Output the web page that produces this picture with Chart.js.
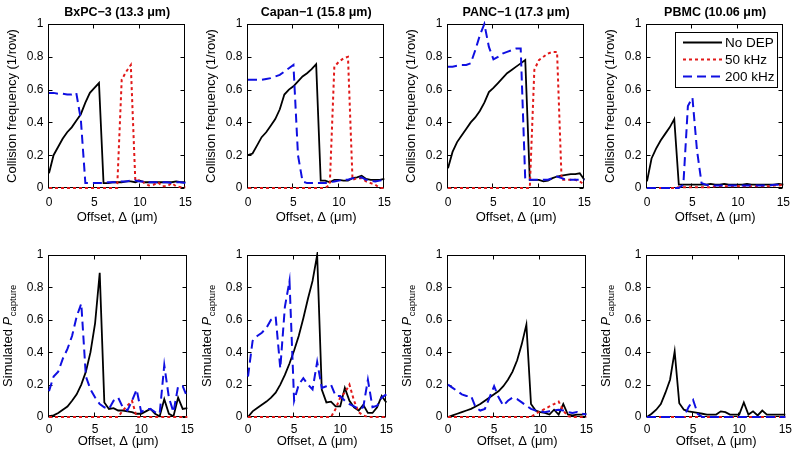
<!DOCTYPE html>
<html><head><meta charset="utf-8">
<script src="https://cdn.jsdelivr.net/npm/chart.js@4.4.1/dist/chart.umd.min.js"></script>
<style>
html,body{margin:0;padding:0;background:#fff;width:796px;height:454px;overflow:hidden;position:relative;}
canvas{position:absolute;}
</style></head><body>
<script>
// ---------- shared axes ----------
const offsets = [0,0.5,1,1.5,2,2.5,3,3.5,4,4.5, 5,5.5,6,6.5,7,7.5,8,8.5,9,9.5, 10,10.5,11,11.5,12,12.5,13,13.5,14,14.5, 15];
const xTicks = [0,5,10,15];
const yTicks = [0,0.2,0.4,0.6,0.8,1];
const panelTitles = ["BxPC\u22123 (13.3 \u03bcm)", "Capan\u22121 (15.8 \u03bcm)", "PANC\u22121 (17.3 \u03bcm)", "PBMC (10.06 \u03bcm)"];
const seriesNames = ["No DEP", "50 kHz", "200 kHz"];
const xLabel = "Offset, \u0394 (\u03bcm)";
const yLabelTop = "Collision frequency (1/row)";
const yLabelBottom = ["Simulated ", "P", "capture"];

// ---------- collision frequency (top row) ----------
const bxCollNoDep = [0.09,0.20,0.25,0.30,0.34,0.37,0.41,0.45,0.52,0.58, 0.61,0.64,0.03,0.03,0.035,0.035,0.035,0.04,0.04,0.035, 0.045,0.035,0.035,0.035,0.035,0.035,0.035,0.035,0.04,0.035, 0.035];
const bxColl50k   = [0,0,0,0,0,0,0,0,0,0, 0,0,0,0,0,0,0.66,0.71,0.75,0.04, 0.05,0.03,0.015,0.02,0.035,0.01,0.01,0.03,0.01,0.005, 0.005];
const bxColl200k  = [0.58,0.58,0.575,0.575,0.57,0.57,0.58,0.42,0.03,0.03, 0.03,0.03,0.03,0.035,0.035,0.035,0.04,0.04,0.045,0.045, 0.04,0.04,0.035,0.035,0.035,0.035,0.035,0.03,0.035,0.035, 0.03];

const caCollNoDep = [0.2,0.21,0.26,0.31,0.34,0.38,0.42,0.48,0.57,0.6, 0.62,0.65,0.68,0.70,0.725,0.755,0.045,0.045,0.035,0.05, 0.05,0.045,0.045,0.06,0.065,0.075,0.055,0.05,0.05,0.05, 0.055];
const caColl50k   = [0,0,0,0,0,0,0,0,0,0, 0,0,0,0,0,0,0,0,0.02,0.74, 0.77,0.79,0.80,0.05,0.06,0.06,0.04,0.03,0.02,0, 0];
const caColl200k  = [0.66,0.66,0.66,0.66,0.665,0.67,0.68,0.69,0.71,0.73, 0.75,0.2,0.04,0.03,0.03,0.03,0.03,0.03,0.035,0.04, 0.045,0.05,0.05,0.06,0.06,0.065,0.05,0.045,0.04,0.045, 0.05];

const paCollNoDep = [0.12,0.22,0.28,0.32,0.36,0.40,0.43,0.47,0.52,0.585, 0.61,0.64,0.67,0.70,0.72,0.74,0.76,0.78,0.05,0.05, 0.05,0.04,0.045,0.06,0.07,0.075,0.08,0.085,0.085,0.09, 0.05];
const paColl50k   = [0,0,0,0,0,0,0,0,0,0, 0,0,0,0,0,0,0,0,0,0.72, 0.78,0.80,0.82,0.83,0.83,0.05,0.05,0.05,0.05,0.04, 0.02];
const paColl200k  = [0.74,0.74,0.745,0.75,0.75,0.76,0.84,0.93,1.0,0.86, 0.785,0.80,0.82,0.83,0.84,0.85,0.85,0.05,0.05,0.05, 0.05,0.05,0.05,0.06,0.07,0.06,0.05,0.05,0.05,0.05, 0.05];

const pbCollNoDep = [0.04,0.18,0.24,0.29,0.33,0.37,0.42,0.02,0.02,0.02, 0.02,0.02,0.02,0.02,0.025,0.02,0.02,0.025,0.02,0.02, 0.02,0.02,0.025,0.02,0.02,0.02,0.02,0.02,0.02,0.025, 0.02];
const pbColl50k   = [0,0,0,0,0,0,0,0.005,0.005,0.005, 0.005,0.005,0.005,0.005,0.005,0.01,0.01,0.01,0.01,0.01, 0.01,0.01,0.01,0.01,0.01,0.01,0.01,0.01,0.015,0.015, 0.02];
const pbColl200k  = [0,0,0,0,0,0,0,0,0.02,0.5, 0.55,0.23,0.03,0.02,0.015,0.015,0.015,0.015,0.015,0.015, 0.015,0.015,0.015,0.015,0.015,0.015,0.015,0.015,0.02,0.02, 0.01];

// ---------- simulated P_capture (bottom row) ----------
const bxSimNoDep = [0.005,0.01,0.025,0.045,0.065,0.1,0.14,0.2,0.28,0.4, 0.58,0.89,0.09,0.05,0.055,0.04,0.04,0.035,0.03,0.02, 0.02,0.035,0.05,0.02,0.005,0.11,0.02,0.005,0.12,0.05, 0.055];
const bxSim50k   = [0,0,0,0,0,0,0,0,0,0, 0,0,0,0,0,0,0.04,0.07,0.1,0, 0,0,0,0,0,0,0,0,0,0, 0];
const bxSim200k  = [0.16,0.25,0.28,0.36,0.42,0.5,0.62,0.70,0.25,0.17, 0.12,0.08,0.06,0.05,0.1,0.12,0.06,0.04,0.1,0.17, 0.03,0.05,0.05,0.03,0.02,0.32,0.12,0.03,0.19,0.19, 0.12];

const caSimNoDep = [0,0.035,0.055,0.075,0.095,0.12,0.15,0.2,0.26,0.33, 0.41,0.5,0.61,0.73,0.84,1.0,0.17,0.09,0.095,0.065, 0.065,0.18,0.1,0.06,0.04,0.075,0.025,0.025,0.06,0.13, 0.09];
const caSim50k   = [0,0,0,0,0,0,0,0,0,0, 0,0,0,0,0,0,0,0,0,0.05, 0.12,0.15,0.2,0.1,0.03,0.01,0,0,0,0, 0];
const caSim200k  = [0.25,0.47,0.5,0.52,0.55,0.6,0.62,0.3,0.68,0.84, 0.1,0.2,0.24,0.2,0.17,0.34,0.18,0.19,0.2,0.13, 0.13,0.1,0.08,0.065,0.05,0.06,0.23,0.06,0.07,0.12, 0.14];

const paSimNoDep = [0,0.01,0.02,0.03,0.04,0.05,0.065,0.08,0.1,0.12, 0.14,0.16,0.19,0.23,0.28,0.35,0.45,0.57,0.08,0.04, 0.03,0.025,0.015,0.045,0.015,0.08,0.015,0.01,0.015,0.015, 0.02];
const paSim50k   = [0,0,0,0,0,0,0,0,0,0, 0,0,0,0,0,0,0,0,0,0.02, 0.035,0.05,0.065,0.08,0.095,0.04,0.005,0,0,0, 0];
const paSim200k  = [0.2,0.18,0.16,0.14,0.13,0.13,0.06,0.04,0.05,0.12, 0.19,0.12,0.07,0.1,0.12,0.11,0.09,0.07,0.05,0.04, 0.035,0.03,0.035,0.04,0.045,0.04,0.03,0.025,0.03,0.02, 0.015];

const pbSimNoDep = [0,0.02,0.045,0.08,0.15,0.23,0.405,0.085,0.045,0.035, 0.03,0.025,0.02,0.015,0.015,0.015,0.035,0.03,0.015,0.015, 0.015,0.09,0.015,0.035,0.01,0.04,0.015,0.015,0.015,0.015, 0.015];
const pbSim50k   = [0,0,0,0,0,0,0,0,0,0, 0,0,0,0,0,0,0,0,0,0, 0,0,0,0,0,0,0,0,0,0, 0];
const pbSim200k  = [0,0,0,0,0,0,0,0,0,0.06, 0.105,0.02,0,0,0,0,0,0,0,0, 0,0,0,0,0,0,0,0,0,0, 0];

// ---------- styling / layout ----------
const FONT = '"Liberation Sans", Arial, Helvetica, sans-serif';
const styles = [
  {color:'#000000', width:1.8, dash:[]},
  {color:'rgb(225,25,25)', width:2, dash:[3,3]},
  {color:'rgb(15,15,225)', width:2, dash:[9,5]}
];
const plotLefts = [49, 248, 448, 647];
const PLOT_W = 141, AXIS_W = 49, CANVAS_W = 199;
const rows = [
  {canvasTop:0,   canvasH:228, plotTop:24, plotBottom:188, tickPad:7, titlePad:2.5},
  {canvasTop:228, canvasH:226, plotTop:27, plotBottom:189, tickPad:5, titlePad:4.5}
];
const panelData = [
  [[bxCollNoDep,bxColl50k,bxColl200k],[caCollNoDep,caColl50k,caColl200k],[paCollNoDep,paColl50k,paColl200k],[pbCollNoDep,pbColl50k,pbColl200k]],
  [[bxSimNoDep,bxSim50k,bxSim200k],[caSimNoDep,caSim50k,caSim200k],[paSimNoDep,paSim50k,paSim200k],[pbSimNoDep,pbSim50k,pbSim200k]]
];

const framePlugin = {
  id: 'frame',
  beforeDatasetsDraw(chart) {
    const {ctx, chartArea: a, scales: {x, y}} = chart;
    ctx.save();
    ctx.strokeStyle = '#000'; ctx.lineWidth = 1; ctx.setLineDash([]);
    const L = Math.round(a.left) - 0.5, R = Math.round(a.right) - 0.5;
    const T = Math.round(a.top) + 0.5, B = Math.round(a.bottom) - 0.5;
    const tl = 4;
    ctx.beginPath();
    xTicks.forEach(v => { const p = Math.round(x.getPixelForValue(v)) - 0.5; ctx.moveTo(p, B); ctx.lineTo(p, B - tl); ctx.moveTo(p, T); ctx.lineTo(p, T + tl); });
    yTicks.forEach(v => { const p = Math.round(y.getPixelForValue(v)) + 0.5; ctx.moveTo(L, p); ctx.lineTo(L + tl, p); ctx.moveTo(R, p); ctx.lineTo(R - tl, p); });
    ctx.stroke();
    ctx.strokeRect(L, T, R - L, B - T);
    ctx.restore();
  },
  afterDatasetsDraw(chart, args, o) {
    if (!o.legend) return;
    const {ctx, chartArea: a} = chart;
    ctx.save();
    const bl = a.left + 28, br = a.right - 6, bt = a.top + 8, bb = bt + 55;
    ctx.fillStyle = '#fff'; ctx.fillRect(bl, bt, br - bl, bb - bt);
    ctx.strokeStyle = '#000'; ctx.lineWidth = 1;
    ctx.strokeRect(Math.round(bl) + 0.5, Math.round(bt) + 0.5, Math.round(br - bl), Math.round(bb - bt));
    chart.data.datasets.forEach((ds, k) => {
      const yy = bt + 10.5 + 17 * k;
      ctx.beginPath();
      ctx.strokeStyle = ds.borderColor; ctx.lineWidth = ds.borderWidth; ctx.setLineDash(ds.borderDash || []);
      ctx.moveTo(bl + 8, yy); ctx.lineTo(bl + 47, yy); ctx.stroke();
      ctx.setLineDash([]);
      ctx.fillStyle = '#000'; ctx.font = '13.5px ' + FONT; ctx.textAlign = 'left'; ctx.textBaseline = 'middle';
      ctx.fillText(ds.label, bl + 50, yy + 0.5);
    });
    ctx.restore();
  },
  afterDraw(chart, args, o) {
    const {ctx, chartArea: a} = chart;
    ctx.save();
    ctx.fillStyle = '#000';
    if (o.title) {
      ctx.font = 'bold 12.5px ' + FONT; ctx.textAlign = 'center'; ctx.textBaseline = 'middle';
      ctx.fillText(o.title, (a.left + a.right) / 2, 12.5);
    }
    const cy = (a.top + a.bottom) / 2;
    if (o.row === 0) {
      ctx.translate(a.left - 33.5, cy); ctx.rotate(-Math.PI / 2);
      ctx.font = '13px ' + FONT; ctx.textAlign = 'center'; ctx.textBaseline = 'alphabetic';
      ctx.fillText(yLabelTop, 0, 0);
    } else {
      ctx.translate(a.left - 37, cy); ctx.rotate(-Math.PI / 2);
      ctx.textAlign = 'left'; ctx.textBaseline = 'alphabetic';
      const f1 = '13px ' + FONT, f2 = 'italic 13px ' + FONT, f3 = '9.5px ' + FONT;
      ctx.font = f1; const w1 = ctx.measureText(yLabelBottom[0]).width;
      ctx.font = f2; const w2 = ctx.measureText(yLabelBottom[1]).width;
      ctx.font = f3; const w3 = ctx.measureText(yLabelBottom[2]).width;
      let sx = -(w1 + w2 + w3) / 2;
      ctx.font = f1; ctx.fillText(yLabelBottom[0], sx, 0); sx += w1;
      ctx.font = f2; ctx.fillText(yLabelBottom[1], sx, 0); sx += w2 + 0.5;
      ctx.font = f3; ctx.fillText(yLabelBottom[2], sx, 4);
    }
    ctx.restore();
  }
};

rows.forEach((rw, r) => {
  plotLefts.forEach((pl, c) => {
    const cv = document.createElement('canvas');
    cv.width = CANVAS_W; cv.height = rw.canvasH;
    cv.style.left = (pl - AXIS_W) + 'px'; cv.style.top = rw.canvasTop + 'px';
    cv.style.width = CANVAS_W + 'px'; cv.style.height = rw.canvasH + 'px';
    document.body.appendChild(cv);
    const series = panelData[r][c];
    new Chart(cv, {
      type: 'line',
      data: {
        datasets: seriesNames.map((name, k) => ({
          label: name,
          data: offsets.map((xv, i) => ({x: xv, y: series[k][i]})),
          borderColor: styles[k].color, borderWidth: styles[k].width, borderDash: styles[k].dash,
          pointRadius: 0, fill: false, tension: 0, order: 3 - k, clip: 3
        }))
      },
      options: {
        responsive: false, animation: false, events: [], devicePixelRatio: 1,
        layout: {padding: {top: rw.plotTop, right: CANVAS_W - AXIS_W - PLOT_W, left: 0, bottom: 0}, autoPadding: false},
        plugins: {
          legend: {display: false}, tooltip: {enabled: false},
          frame: {title: r === 0 ? panelTitles[c] : null, row: r, legend: (r === 0 && c === 3)}
        },
        scales: {
          x: {
            type: 'linear', min: 0, max: 15,
            afterFit(s) { s.height = rw.canvasH - rw.plotBottom; },
            afterBuildTicks(s) { s.ticks = xTicks.map(v => ({value: v})); },
            grid: {display: false, drawTicks: false}, border: {display: false},
            ticks: {padding: rw.tickPad, color: '#000', maxRotation: 0, font: {family: FONT, size: 12}, callback: v => String(v)},
            title: {display: true, text: xLabel, color: '#000', font: {family: FONT, size: 13}, padding: {top: 0, bottom: rw.titlePad}}
          },
          y: {
            type: 'linear', min: 0, max: 1,
            afterFit(s) { s.width = AXIS_W; },
            afterBuildTicks(s) { s.ticks = yTicks.map(v => ({value: v})); },
            grid: {display: false, drawTicks: false}, border: {display: false},
            ticks: {padding: 5.5, color: '#000', font: {family: FONT, size: 12}, callback: v => String(Math.round(v * 10) / 10)}
          }
        }
      },
      plugins: [framePlugin]
    });
  });
});
</script>
</body></html>
